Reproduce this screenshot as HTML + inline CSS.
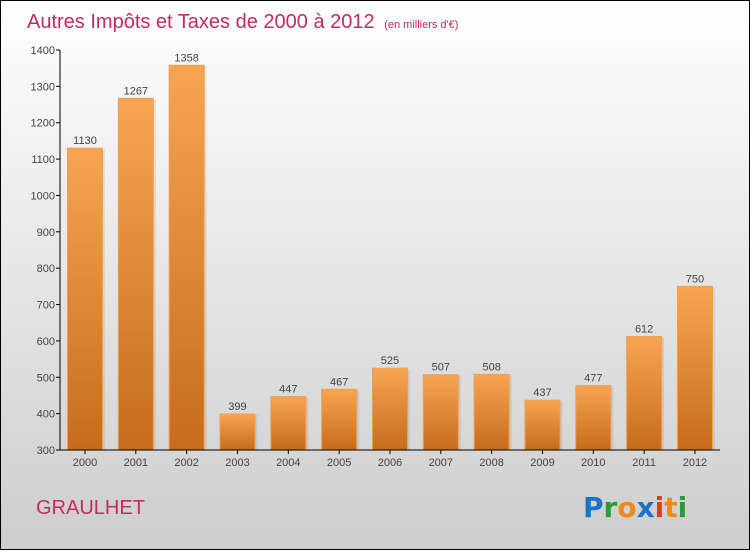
<!DOCTYPE html>
<html><head><meta charset="utf-8"><style>
body{margin:0;width:750px;height:550px;overflow:hidden;font-family:"Liberation Sans",sans-serif}
</style></head><body>
<svg width="750" height="550" xmlns="http://www.w3.org/2000/svg">
<defs>
<linearGradient id="bg" x1="0" y1="0" x2="0" y2="1"><stop offset="0" stop-color="#ffffff"/><stop offset="1" stop-color="#cdcdcd"/></linearGradient>
<linearGradient id="bar" x1="0" y1="0" x2="0" y2="1"><stop offset="0" stop-color="#f8a552"/><stop offset="1" stop-color="#c66c1c"/></linearGradient>
</defs>
<rect x="0.5" y="0.5" width="749" height="549" fill="url(#bg)" stroke="#000"/>
<text x="27" y="28" font-size="20" fill="#c42b5e">Autres Impôts et Taxes de 2000 à 2012 <tspan font-size="11" dx="4">(en milliers d'€)</tspan></text>
<g id="yaxis"></g>
<g id="bars"></g>
<line x1="60" y1="50" x2="60" y2="450" stroke="#000"/>
<line x1="60" y1="450" x2="720" y2="450" stroke="#000"/>
<text x="36" y="514" font-size="20" fill="#c42b5e">GRAULHET</text>
<text x="583" y="517" font-size="28" font-family="'DejaVu Sans',sans-serif" font-weight="bold"><tspan fill="#1a73c8">P</tspan><tspan fill="#2a9a3a">r</tspan><tspan fill="#f08a10">o</tspan><tspan fill="#1a73c8">x</tspan><tspan fill="#e03a1a">i</tspan><tspan fill="#f08a10">t</tspan><tspan fill="#2a9a3a">i</tspan></text>
</svg>
<script>
const years=["2000","2001","2002","2003","2004","2005","2006","2007","2008","2009","2010","2011","2012"];
const values=[1130,1267,1358,399,447,467,525,507,508,437,477,612,750];
const yTicks=[300,400,500,600,700,800,900,1000,1100,1200,1300,1400];
const NS="http://www.w3.org/2000/svg";
function y(v){return 450-(v-300)*400/1100;}
function x(i){return 85+i*50.83;}
function mk(t,a,p){const e=document.createElementNS(NS,t);for(const k in a)e.setAttribute(k,a[k]);p.appendChild(e);return e;}
const ya=document.getElementById('yaxis');
yTicks.forEach(v=>{
 const l=mk('line',{x1:56,x2:60,y1:y(v),y2:y(v),stroke:'#000'},ya);
 
 
 const t=mk('text',{x:55,y:y(v)+4,'font-size':11,'text-anchor':'end',fill:'#444'},ya);t.textContent=v;
 
 
});
const bg=document.getElementById('bars');
values.forEach((v,i)=>{
 const cx=x(i);
 mk('rect',{x:cx-16,y:y(v)+1,width:36,height:450-y(v)-1,fill:'#000','fill-opacity':0.08},bg);
 const r=mk('rect',{x:cx-17.5,y:y(v),width:35,height:450-y(v),fill:'url(#bar)',stroke:'#f0a050','stroke-width':1},bg);
 
 
 const t=mk('text',{x:cx,y:y(v)-4,'font-size':11,'text-anchor':'middle',fill:'#444'},bg);t.textContent=v;
 
 
 const tk=mk('line',{x1:cx,x2:cx,y1:450,y2:454,stroke:'#000'},bg);
 
 
 const xl=mk('text',{x:cx,y:466,'font-size':11,'text-anchor':'middle',fill:'#444'},bg);xl.textContent=years[i];
 
 
});
</script>
</body></html>
